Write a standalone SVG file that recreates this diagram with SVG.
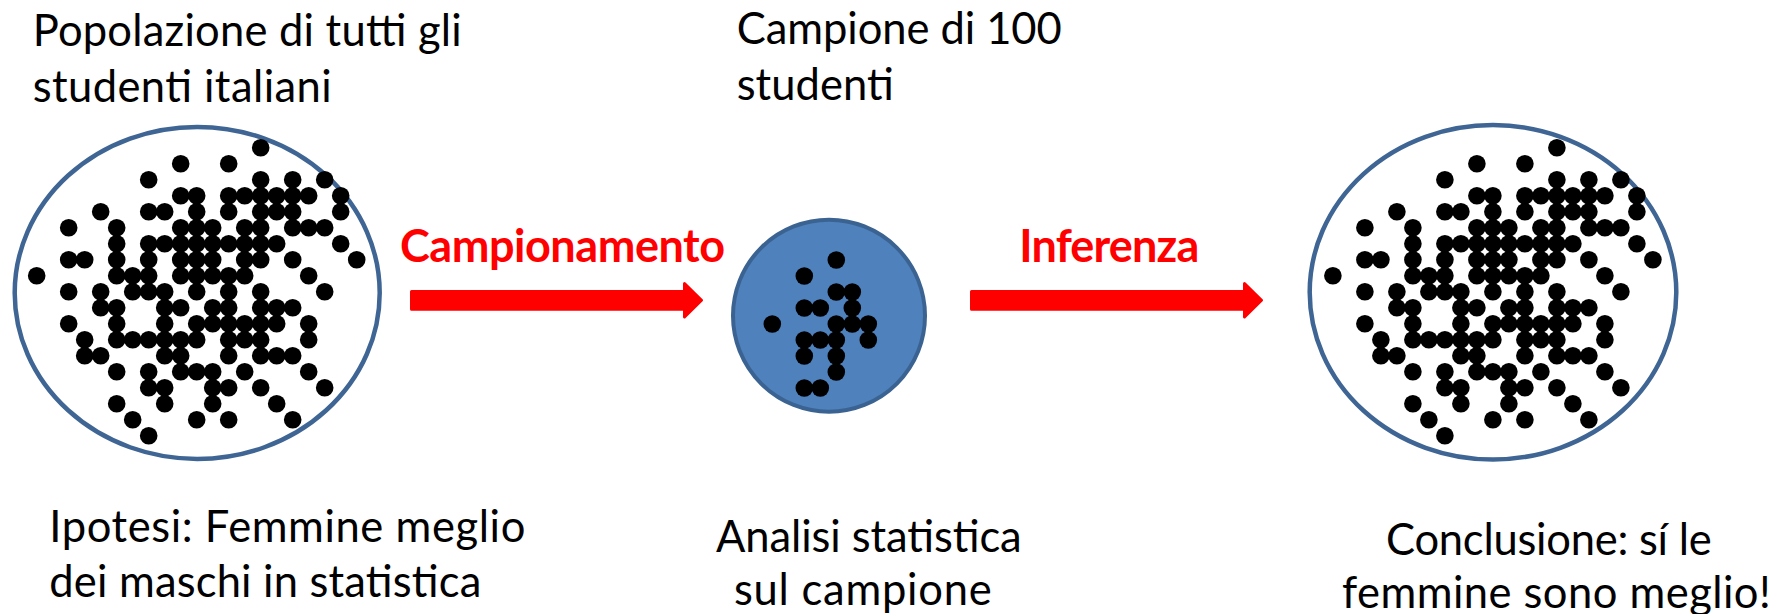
<svg xmlns="http://www.w3.org/2000/svg" xmlns:xlink="http://www.w3.org/1999/xlink" width="1774" height="614" viewBox="0 0 1774 614">
<style>
  .txt { font-family: Lato, "Liberation Sans", sans-serif; font-size: 43.5px; fill: #000; }
  .red { font-family: Lato, "Liberation Sans", sans-serif; font-size: 45px; font-weight: bold; fill: #FF0000; }
  .pop { fill: #fff; stroke: #3E6593; stroke-width: 4.5; }
  .samp { fill: #4F81BD; stroke: #3B6392; stroke-width: 4; }
  .dot { fill: #000; }
  .arrow { fill: #FF0000; stroke: #FF0000; stroke-width: 3; stroke-linejoin: round; }
</style>
<defs>
  <g id="pop-dots" class="dot">
    <circle cx="224" cy="0" r="8.8"/>
    <circle cx="144" cy="16" r="8.8"/><circle cx="192" cy="16" r="8.8"/>
    <circle cx="112" cy="32" r="8.8"/><circle cx="224" cy="32" r="8.8"/><circle cx="256" cy="32" r="8.8"/><circle cx="288" cy="32" r="8.8"/>
    <circle cx="144" cy="48" r="8.8"/><circle cx="160" cy="48" r="8.8"/><circle cx="192" cy="48" r="8.8"/><circle cx="208" cy="48" r="8.8"/><circle cx="224" cy="48" r="8.8"/><circle cx="240" cy="48" r="8.8"/><circle cx="256" cy="48" r="8.8"/><circle cx="272" cy="48" r="8.8"/><circle cx="304" cy="48" r="8.8"/>
    <circle cx="64" cy="64" r="8.8"/><circle cx="112" cy="64" r="8.8"/><circle cx="128" cy="64" r="8.8"/><circle cx="160" cy="64" r="8.8"/><circle cx="192" cy="64" r="8.8"/><circle cx="224" cy="64" r="8.8"/><circle cx="240" cy="64" r="8.8"/><circle cx="256" cy="64" r="8.8"/><circle cx="304" cy="64" r="8.8"/>
    <circle cx="32" cy="80" r="8.8"/><circle cx="80" cy="80" r="8.8"/><circle cx="144" cy="80" r="8.8"/><circle cx="160" cy="80" r="8.8"/><circle cx="176" cy="80" r="8.8"/><circle cx="208" cy="80" r="8.8"/><circle cx="224" cy="80" r="8.8"/><circle cx="256" cy="80" r="8.8"/><circle cx="272" cy="80" r="8.8"/><circle cx="288" cy="80" r="8.8"/>
    <circle cx="80" cy="96" r="8.8"/><circle cx="112" cy="96" r="8.8"/><circle cx="128" cy="96" r="8.8"/><circle cx="144" cy="96" r="8.8"/><circle cx="160" cy="96" r="8.8"/><circle cx="176" cy="96" r="8.8"/><circle cx="192" cy="96" r="8.8"/><circle cx="208" cy="96" r="8.8"/><circle cx="224" cy="96" r="8.8"/><circle cx="240" cy="96" r="8.8"/><circle cx="304" cy="96" r="8.8"/>
    <circle cx="32" cy="112" r="8.8"/><circle cx="48" cy="112" r="8.8"/><circle cx="80" cy="112" r="8.8"/><circle cx="112" cy="112" r="8.8"/><circle cx="144" cy="112" r="8.8"/><circle cx="160" cy="112" r="8.8"/><circle cx="176" cy="112" r="8.8"/><circle cx="208" cy="112" r="8.8"/><circle cx="224" cy="112" r="8.8"/><circle cx="256" cy="112" r="8.8"/><circle cx="320" cy="112" r="8.8"/>
    <circle cx="0" cy="128" r="8.8"/><circle cx="80" cy="128" r="8.8"/><circle cx="96" cy="128" r="8.8"/><circle cx="112" cy="128" r="8.8"/><circle cx="144" cy="128" r="8.8"/><circle cx="160" cy="128" r="8.8"/><circle cx="176" cy="128" r="8.8"/><circle cx="192" cy="128" r="8.8"/><circle cx="208" cy="128" r="8.8"/><circle cx="272" cy="128" r="8.8"/>
    <circle cx="32" cy="144" r="8.8"/><circle cx="64" cy="144" r="8.8"/><circle cx="96" cy="144" r="8.8"/><circle cx="112" cy="144" r="8.8"/><circle cx="128" cy="144" r="8.8"/><circle cx="160" cy="144" r="8.8"/><circle cx="192" cy="144" r="8.8"/><circle cx="224" cy="144" r="8.8"/><circle cx="288" cy="144" r="8.8"/>
    <circle cx="64" cy="160" r="8.8"/><circle cx="80" cy="160" r="8.8"/><circle cx="128" cy="160" r="8.8"/><circle cx="144" cy="160" r="8.8"/><circle cx="176" cy="160" r="8.8"/><circle cx="192" cy="160" r="8.8"/><circle cx="224" cy="160" r="8.8"/><circle cx="240" cy="160" r="8.8"/><circle cx="256" cy="160" r="8.8"/>
    <circle cx="32" cy="176" r="8.8"/><circle cx="80" cy="176" r="8.8"/><circle cx="128" cy="176" r="8.8"/><circle cx="160" cy="176" r="8.8"/><circle cx="176" cy="176" r="8.8"/><circle cx="192" cy="176" r="8.8"/><circle cx="208" cy="176" r="8.8"/><circle cx="224" cy="176" r="8.8"/><circle cx="240" cy="176" r="8.8"/><circle cx="272" cy="176" r="8.8"/>
    <circle cx="48" cy="192" r="8.8"/><circle cx="80" cy="192" r="8.8"/><circle cx="96" cy="192" r="8.8"/><circle cx="112" cy="192" r="8.8"/><circle cx="128" cy="192" r="8.8"/><circle cx="144" cy="192" r="8.8"/><circle cx="160" cy="192" r="8.8"/><circle cx="192" cy="192" r="8.8"/><circle cx="208" cy="192" r="8.8"/><circle cx="224" cy="192" r="8.8"/><circle cx="272" cy="192" r="8.8"/>
    <circle cx="48" cy="208" r="8.8"/><circle cx="64" cy="208" r="8.8"/><circle cx="128" cy="208" r="8.8"/><circle cx="144" cy="208" r="8.8"/><circle cx="192" cy="208" r="8.8"/><circle cx="224" cy="208" r="8.8"/><circle cx="240" cy="208" r="8.8"/><circle cx="256" cy="208" r="8.8"/>
    <circle cx="80" cy="224" r="8.8"/><circle cx="112" cy="224" r="8.8"/><circle cx="144" cy="224" r="8.8"/><circle cx="160" cy="224" r="8.8"/><circle cx="176" cy="224" r="8.8"/><circle cx="208" cy="224" r="8.8"/><circle cx="272" cy="224" r="8.8"/>
    <circle cx="112" cy="240" r="8.8"/><circle cx="128" cy="240" r="8.8"/><circle cx="176" cy="240" r="8.8"/><circle cx="192" cy="240" r="8.8"/><circle cx="224" cy="240" r="8.8"/><circle cx="288" cy="240" r="8.8"/>
    <circle cx="80" cy="256" r="8.8"/><circle cx="128" cy="256" r="8.8"/><circle cx="176" cy="256" r="8.8"/><circle cx="240" cy="256" r="8.8"/>
    <circle cx="96" cy="272" r="8.8"/><circle cx="160" cy="272" r="8.8"/><circle cx="192" cy="272" r="8.8"/><circle cx="256" cy="272" r="8.8"/>
    <circle cx="112" cy="288" r="8.8"/>
  </g>
</defs>

<g id="popolazione">
  <ellipse class="pop" cx="197.2" cy="292.9" rx="182.5" ry="166"/>
  <use xlink:href="#pop-dots" href="#pop-dots" transform="translate(36.7,147.7)"/>
  <text class="txt" x="32.7" y="46" textLength="429">Popolazione di tutti gli</text>
  <text class="txt" x="32.7" y="101.7" textLength="299">studenti italiani</text>
  <text class="txt" x="49.3" y="541.7" textLength="476">Ipotesi: Femmine meglio</text>
  <text class="txt" x="49.3" y="596.7" textLength="432">dei maschi in statistica</text>
</g>

<g id="campione">
  <circle class="samp" cx="829" cy="315.7" r="96"/>
  <g class="dot" transform="translate(772.3,260)">
    <circle cx="64" cy="0" r="8.8"/>
    <circle cx="32" cy="16" r="8.8"/>
    <circle cx="64" cy="32" r="8.8"/><circle cx="80" cy="32" r="8.8"/>
    <circle cx="32" cy="48" r="8.8"/><circle cx="48" cy="48" r="8.8"/><circle cx="80" cy="48" r="8.8"/>
    <circle cx="0" cy="64" r="8.8"/><circle cx="64" cy="64" r="8.8"/><circle cx="80" cy="64" r="8.8"/><circle cx="96" cy="64" r="8.8"/>
    <circle cx="32" cy="80" r="8.8"/><circle cx="48" cy="80" r="8.8"/><circle cx="64" cy="80" r="8.8"/><circle cx="96" cy="80" r="8.8"/>
    <circle cx="32" cy="96" r="8.8"/><circle cx="64" cy="96" r="8.8"/>
    <circle cx="64" cy="112" r="8.8"/>
    <circle cx="32" cy="128" r="8.8"/><circle cx="48" cy="128" r="8.8"/>
  </g>
  <text class="txt" x="736.7" y="43.5" textLength="325">Campione di 100</text>
  <text class="txt" x="736.7" y="99.5" textLength="157">studenti</text>
  <text class="txt" x="716" y="552.3" textLength="305.7">Analisi statistica</text>
  <text class="txt" x="734" y="605" textLength="257.7">sul campione</text>
</g>

<g id="conclusione">
  <ellipse class="pop" cx="1493" cy="292.3" rx="183.3" ry="167.2"/>
  <use xlink:href="#pop-dots" href="#pop-dots" transform="translate(1332.9,147.7)"/>
  <text class="txt" x="1386" y="555" textLength="325.7">Conclusione: sí le</text>
  <text class="txt" x="1342" y="608.3" textLength="428.7">femmine sono meglio!</text>
</g>

<g id="connectors">
  <g id="campionamento">
    <path class="arrow" d="M411.5,291.5 H684.5 V283.5 L701.5,300.3 L684.5,317 V309.2 H411.5 Z"/>
    <text class="red" x="400" y="261.7" textLength="325">Campionamento</text>
  </g>
  <g id="inferenza">
    <path class="arrow" d="M971.5,291.5 H1244.5 V283.5 L1261.5,300.3 L1244.5,317 V309.2 H971.5 Z"/>
    <text class="red" x="1019.3" y="261.7" textLength="180">Inferenza</text>
  </g>
</g>
</svg>
